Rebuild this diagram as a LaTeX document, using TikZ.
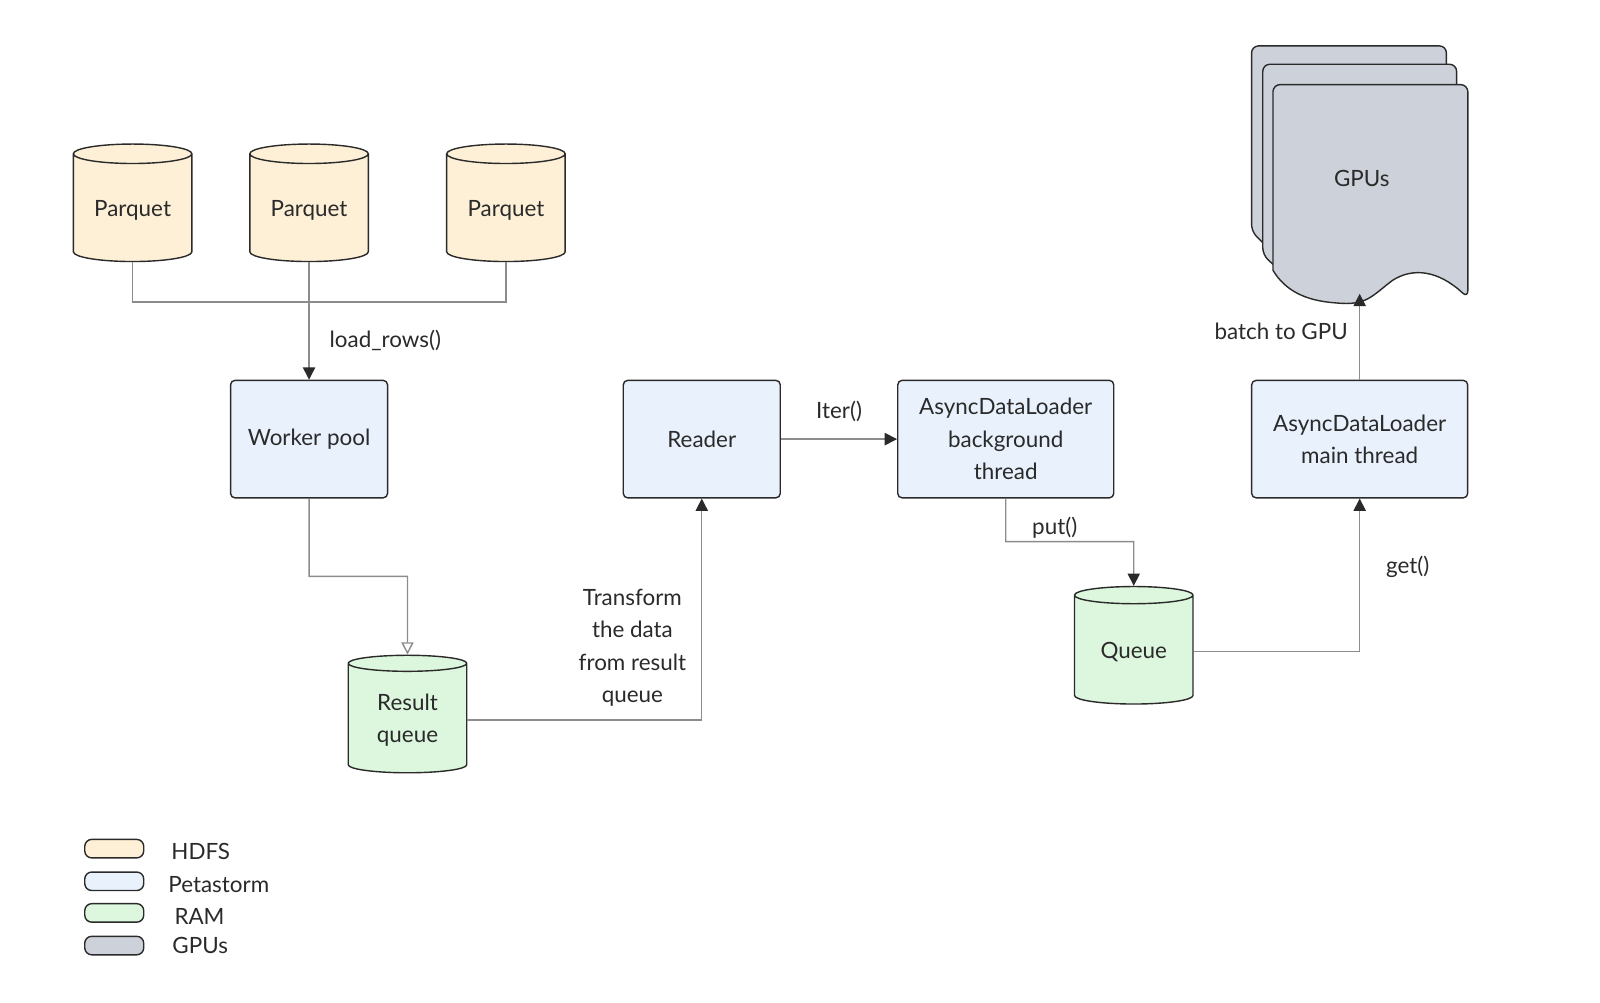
\documentclass[tikz,border=0pt]{standalone}
\usepackage{fontspec}
\setmainfont{Lato}
\usetikzlibrary{shapes.geometric,arrows.meta}
\definecolor{hdfs}{HTML}{FDF0D6}
\definecolor{peta}{HTML}{E8F1FC}
\definecolor{ram}{HTML}{DDF6DE}
\definecolor{gpu}{HTML}{CDD1D9}
\definecolor{wire}{HTML}{8C8C8C}
\definecolor{ink}{HTML}{2A2A2A}
\begin{document}
\begin{tikzpicture}[x=0.0204cm,y=-0.0204cm,
    font=\fontsize{12.75}{18.5}\selectfont, text=ink,
    box/.style={draw=ink,thick,rounded corners=2.5pt,align=center,minimum width=3.14cm,minimum height=2.35cm},
    wide/.style={box,minimum width=4.32cm},
    store/.style={cylinder,shape border rotate=90,aspect=0.22,draw=ink,thick,minimum width=2.37cm,minimum height=2.35cm,align=center},
    wire/.style={draw=wire,thick},
    flow/.style={wire,-{Triangle[length=7pt,width=7pt,fill=ink,color=ink]}},
    hollow/.style={wire,-{Triangle[open,length=7pt,width=7pt]}},
    key/.style={draw=ink,thick,rounded corners=4pt,minimum width=1.18cm,minimum height=0.37cm,inner sep=0pt}]
% sources
\node[store,fill=hdfs] (pq1) at (130,206) {Parquet};
\node[store,fill=hdfs] (pq2) at (303,206) {Parquet};
\node[store,fill=hdfs] (pq3) at (496,206) {Parquet};
\coordinate (join) at (303,296);
% boxes
\node[box,fill=peta] (pool) at (303,430.5) {Worker pool};
\node[store,fill=ram] (res) at (399.5,706) {Result\\queue};
\node[box,fill=peta] (reader) at (688,430.5) {Reader};
\node[wide,fill=peta] (bg) at (986,430.5) {AsyncDataLoader\\background\\thread};
\node[store,fill=ram] (queue) at (1111.5,639) {Queue};
\node[wide,fill=peta] (main) at (1333,430.5) {AsyncDataLoader\\main thread};
% gpus
\begin{scope}[draw=ink,thick,fill=gpu]
\filldraw[rounded corners=4pt] (1227,227) -- (1227,45) -- (1418,45) -- (1418,120) -- (1250,250) -- cycle;
\filldraw[rounded corners=4pt] (1238,250) -- (1238,63) -- (1428,63) -- (1428,140) -- (1260,270) -- cycle;
\filldraw[rounded corners=4pt] (1248,265) -- (1248,83) -- (1439,83) -- (1439,292)
   [sharp corners] .. controls (1410,265) and (1385,262) .. (1365,275)
   .. controls (1345,290) and (1340,300) .. (1310,297)
   .. controls (1280,295) and (1260,285) .. (1248,265) -- cycle;
\end{scope}
\node (gpus) at (1335,175) {GPUs};
\coordinate (gpuin) at (1333,288);
% connectors
\draw[wire] (pq1.south) |- (join) -| (pq3.south);
\draw[wire] (pq2.south) -- (join);
\draw[flow] (join) -- node[right=8pt] {load\_rows()} (pool.north);
\draw[hollow] (pool.south) |- (399.5,565) -- (res.north);
\draw[flow] (res.east) -| (reader.south);
\node[align=center] (xform) at (620,635) {Transform\\the data\\from result\\queue};
\draw[flow] (reader.east) -- node[above=6pt] {Iter()} (bg.west);
\draw[flow] (bg.south) |- (1111.5,531) -- (queue.north);
\node (put) at (1034,517) {put()};
\draw[flow] (queue.east) -| (main.south);
\node (get) at (1380,556) {get()};
\draw[flow] (main.north) -- (gpuin);
\node (batch) at (1256,325) {batch to GPU};
% legend
\node[key,fill=hdfs] (k1) at (112,832) {};
\node[key,fill=peta] (k2) at (112,864) {};
\node[key,fill=ram] (k3) at (112,895) {};
\node[key,fill=gpu] (k4) at (112,927) {};
\node[anchor=west] at (162,835) {HDFS};
\node[anchor=west] at (159,867) {Petastorm};
\node[anchor=west] at (165,898) {RAM};
\node[anchor=west] at (163,927) {GPUs};
\pgfresetboundingbox
\useasboundingbox (0,0) rectangle (1568.6,983.3);
\end{tikzpicture}
\end{document}
